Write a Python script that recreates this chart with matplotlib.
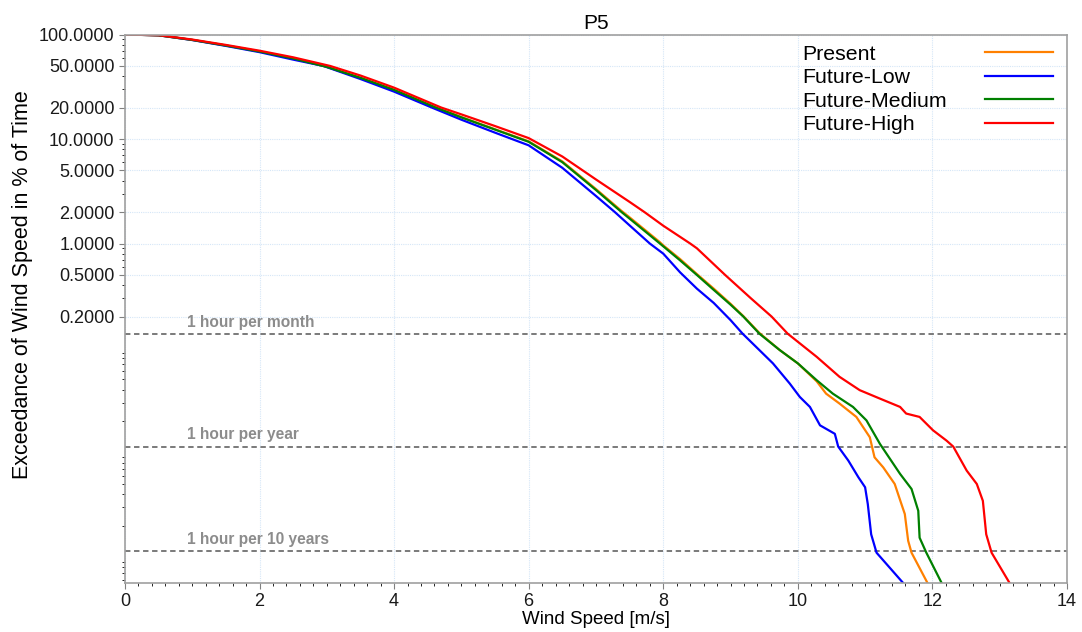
import matplotlib.pyplot as plt
from matplotlib.ticker import FixedLocator, FormatStrFormatter, LogLocator, MultipleLocator

plt.rcParams['font.family'] = ['Liberation Sans', 'DejaVu Sans']

# exceedance curves: wind speed [m/s] vs % of time
present_x = [0, 0.5, 1, 1.5, 2, 2.5, 3, 3.5, 4, 4.62, 5, 5.5, 6.0, 6.5, 7.0, 7.38, 7.5, 7.95,
             8.0, 8.25, 8.5, 8.75, 9.0, 9.19, 9.43, 9.73, 10.0, 10.28, 10.42, 10.62, 10.87, 11.07, 11.14,
             11.27, 11.44, 11.54, 11.59, 11.64, 11.69, 11.93]
present_y = [100, 98.3, 88.8, 78.5, 68.8, 59, 49, 38.5, 29.5, 20, 16.2, 12.4, 9.5, 6.1, 3.32,
             2.05, 1.78, 1.03, 0.96, 0.71, 0.51, 0.37, 0.265, 0.202, 0.139, 0.0957, 0.0713, 0.048, 0.0366,
             0.0294, 0.0219, 0.014, 0.009, 0.0072, 0.005, 0.00321, 0.00258, 0.00143, 0.0011, 0.00056]

low_x = [0, 0.5, 1, 1.5, 2, 2.5, 2.95, 3.5, 4, 4.56, 5, 5.5, 6.0, 6.5, 7.0, 7.28, 7.5, 7.8, 8.0,
         8.25, 8.5, 8.75, 9.0, 9.18, 9.63, 9.88, 10.03, 10.18, 10.33, 10.55, 10.6, 10.75, 10.9, 11.0,
         11.04, 11.09, 11.17, 11.57]
low_y = [100, 98.3, 88.5, 77.8, 67.8, 57.5, 50, 37.5, 28.4, 20, 15.3, 11.5, 8.7, 5.3, 2.85, 2.0, 1.49,
         1.0, 0.8, 0.53, 0.37, 0.27, 0.185, 0.137, 0.0713, 0.0457, 0.034, 0.0273, 0.0182, 0.0151, 0.0114,
         0.00838, 0.0058, 0.00465, 0.00321, 0.00165, 0.0011, 0.00056]

medium_x = [0, 0.5, 1, 1.5, 2, 2.5, 3, 3.5, 4, 4.62, 5, 5.5, 6.0, 6.5, 7.0, 7.38, 7.5, 7.95,
            8.0, 8.25, 8.5, 8.75, 9.0, 9.19, 9.43, 9.73, 10.0, 10.28, 10.52, 10.82, 11.02, 11.22, 11.52,
            11.69, 11.79, 11.81, 11.91, 12.14]
medium_y = [100, 98.3, 88.8, 78.5, 68.8, 59, 49, 38.5, 29.5, 20, 16.1, 12.3, 9.4, 6.0, 3.25, 2.0,
            1.73, 1.0, 0.94, 0.69, 0.5, 0.36, 0.26, 0.2, 0.137, 0.0957, 0.0713, 0.0492, 0.0366, 0.0273,
            0.0203, 0.0121, 0.00624, 0.00448, 0.00277, 0.00153, 0.0011, 0.00056]

high_x = [0, 0.5, 1, 1.5, 2, 2.5, 3.05, 3.5, 4, 4.7, 5, 5.5, 6.0, 6.5, 7.0, 7.5, 7.72, 8.0, 8.4,
          8.5, 8.92, 9.3, 9.61, 9.85, 10.28, 10.62, 10.92, 11.22, 11.52, 11.61, 11.81, 12.01, 12.21,
          12.31, 12.51, 12.66, 12.75, 12.8, 12.88, 13.15]
high_y = [100, 98.5, 89.5, 79.5, 70, 60.5, 50, 40.5, 31, 20, 17.2, 13.3, 10.2, 6.8, 4.1, 2.5, 2.0, 1.48,
          1.0, 0.9, 0.5, 0.3, 0.2, 0.137, 0.0824, 0.053, 0.0395, 0.0328, 0.0273, 0.0236, 0.0219, 0.0163,
          0.013, 0.0114, 0.00671, 0.005, 0.00345, 0.00165, 0.0011, 0.00056]

series = [("Present", present_x, present_y, "#ff8000"),
          ("Future-Low", low_x, low_y, "#0000ff"),
          ("Future-Medium", medium_x, medium_y, "#008000"),
          ("Future-High", high_x, high_y, "#ff0000")]

# return-period reference levels in % of time
ref_labels = ["1 hour per month", "1 hour per year", "1 hour per 10 years"]
ref_values = [100 / 730, 100 / 8760, 100 / 87600]

y_ticks = [100, 50, 20, 10, 5, 2, 1, 0.5, 0.2]

fig = plt.figure(figsize=(10.82, 6.32), dpi=100)
ax = fig.add_axes([0.1155, 0.0783, 0.8706, 0.8671])

for name, xs, ys, c in series:
    ax.plot(xs, ys, color=c, lw=1.6, label=name)

for lab, v in zip(ref_labels, ref_values):
    ax.axhline(v, color="#707070", lw=1.3, ls=(0, (3, 2)), zorder=1)
    ax.annotate(lab, (0.92, v), xytext=(0, 3), textcoords="offset points", color="#8c8c8c",
                fontsize=11.2, fontweight="bold", va="bottom")

ax.set_yscale("log")
ax.set_xlim(0, 14)
ax.set_ylim(10 ** -3.244, 100)
ax.xaxis.set_major_locator(MultipleLocator(2))
ax.xaxis.set_minor_locator(MultipleLocator(0.2))
ax.yaxis.set_major_locator(FixedLocator(y_ticks))
ax.yaxis.set_major_formatter(FormatStrFormatter("%.4f"))
ax.yaxis.set_minor_locator(LogLocator(base=10, subs=range(2, 10), numticks=20))
ax.tick_params(labelsize=13, color="#808080", labelcolor="#1a1a1a")
ax.tick_params(which="major", length=4)
ax.tick_params(which="minor", length=2.5)

ax.grid(True, which="major", color="#d5e6f7", lw=0.8, ls=(0, (1, 1)))
ax.set_axisbelow(True)
for s in ax.spines.values():
    s.set_color("#a0a0a0")
    s.set_linewidth(1.2)

ax.set_title("P5", fontsize=15, pad=4)
ax.set_xlabel("Wind Speed [m/s]", fontsize=13.5, labelpad=1)
ax.set_ylabel("Exceedance of Wind Speed in % of Time", fontsize=15.5)
ax.yaxis.set_label_coords(-0.098, 0.544)

leg = ax.legend(loc="upper right", bbox_to_anchor=(0.9851, 0.981), frameon=False, markerfirst=False,
                fontsize=15.3, handlelength=3.2, handletextpad=1.8, labelspacing=0.21,
                borderaxespad=0, borderpad=0)

# left-align the legend labels while keeping the line samples in one column
fig.canvas.draw()
r = fig.canvas.get_renderer()
widths = [t.get_window_extent(r).width for t in leg.get_texts()]
col = leg._legend_handle_box.get_children()[0]
col.align = "left"
for item, w in zip(col.get_children(), widths):
    item.sep += (max(widths) - w) * 72 / fig.dpi

plt.savefig("out.png", dpi=100)
